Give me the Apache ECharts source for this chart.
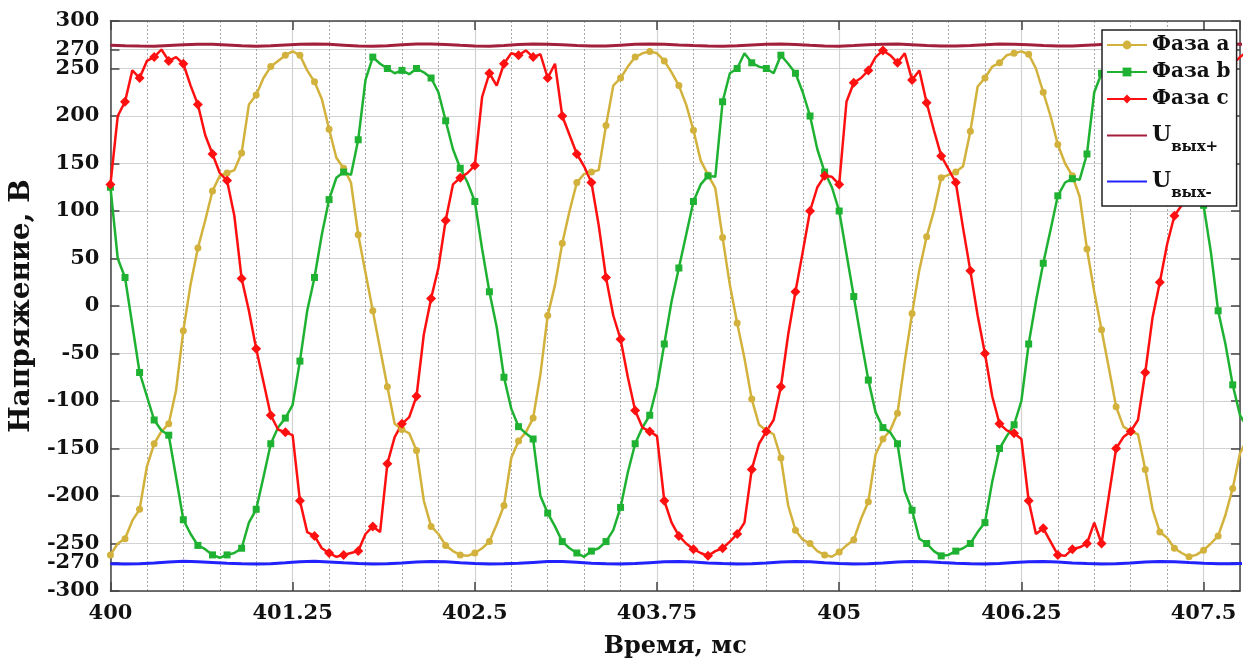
<!DOCTYPE html>
<html>
<head>
<meta charset="utf-8">
<script src="https://cdn.jsdelivr.net/npm/echarts@6/dist/echarts.min.js"></script>
<style>
html,body{margin:0;padding:0;background:#fff}
#box{width:1245px;height:664px}
</style>
</head>
<body>
<div id="box"></div>
<script>
// phase voltages, one value every 0.05 ms from 400 ms
var t0 = 400;
var phaseStep = 0.05;
var phaseA = [-262,-250,-245,-226,-214,-169,-145,-132,-124,-89,
  -26,23,61,90,121,137,140,143,161,212,
  222,240,252,258,264,268,264,248,236,218,
  186,156,145,130,75,35,-5,-45,-85,-124,
  -130,-134,-152,-205,-232,-240,-252,-258,-262,-263,
  -260,-255,-248,-230,-210,-160,-142,-133,-118,-72,
  -10,22,66,100,130,139,141,143,190,232,
  240,252,262,266,268,266,258,246,232,212,
  185,153,138,124,72,22,-18,-55,-98,-125,
  -131,-135,-160,-210,-236,-246,-250,-258,-262,-264,
  -259,-252,-246,-224,-206,-156,-140,-131,-113,-58,
  -8,38,73,100,135,138,141,147,184,231,
  240,252,256,264,266,268,265,250,225,200,
  170,150,137,115,60,15,-25,-65,-106,-127,
  -132,-135,-172,-214,-238,-244,-255,-260,-264,-262,
  -257,-250,-242,-220,-192,-155,-140];
var phaseB = [125,50,30,-20,-70,-95,-120,-131,-136,-180,
  -225,-240,-252,-256,-262,-265,-262,-260,-255,-228,
  -214,-180,-145,-128,-118,-104,-58,-5,30,75,
  112,135,141,138,175,238,262,255,250,245,
  248,244,250,246,240,225,195,165,145,130,
  110,60,15,-22,-75,-108,-127,-134,-140,-200,
  -218,-232,-248,-255,-260,-264,-258,-255,-248,-236,
  -212,-175,-145,-128,-115,-85,-40,5,40,75,
  110,128,137,136,215,245,250,266,256,252,
  250,245,264,255,245,225,200,165,141,125,
  100,55,10,-35,-78,-112,-128,-133,-145,-195,
  -215,-245,-250,-258,-263,-262,-258,-255,-250,-238,
  -228,-185,-150,-137,-125,-100,-40,5,45,80,
  116,130,134,133,160,225,245,235,255,248,
  252,246,258,250,240,228,195,165,142,130,
  106,57,-5,-40,-83,-115,-128];
var phaseC = [128,200,215,248,240,258,262,270,258,262,
  255,232,212,180,160,140,132,95,29,-5,
  -45,-80,-115,-130,-133,-136,-205,-238,-242,-255,
  -260,-264,-262,-260,-258,-240,-232,-238,-166,-138,
  -124,-117,-95,-30,8,40,90,128,135,140,
  148,220,245,232,255,266,264,269,262,265,
  240,255,200,180,160,147,130,85,30,-10,
  -35,-75,-110,-128,-132,-137,-205,-228,-242,-250,
  -256,-260,-263,-258,-255,-248,-240,-228,-172,-145,
  -132,-120,-85,-30,15,57,100,125,137,136,
  128,215,235,240,248,262,269,264,256,266,
  238,248,214,185,158,144,130,82,37,-10,
  -50,-95,-124,-131,-134,-140,-205,-240,-234,-248,
  -262,-263,-256,-254,-250,-228,-250,-200,-150,-138,
  -132,-120,-70,-12,25,65,95,106,130,140,
  150,200,235,245,255,262,268];

// output rails, one value every 0.1 ms
var railStep = 0.1;
var uPlus = [274.5,274.0,273.6,273.4,274.2,275.0,275.6,275.4,274.8,274.0,
  273.5,274.0,274.8,275.5,275.8,275.4,274.6,273.8,273.4,274.0,
  275.0,275.7,275.8,275.2,274.4,273.7,273.5,274.3,275.2,275.8,
  275.6,274.9,274.1,273.6,273.8,274.6,275.4,275.8,275.5,274.8,
  274.2,273.7,273.5,273.9,274.8,275.5,275.7,275.2,274.4,273.8,
  273.5,274.1,275.0,275.6,275.7,275.1,274.3,273.7,273.6,274.3,
  275.1,275.7,275.6,274.9,274.1,273.6,273.7,274.5,275.3,275.8,
  275.5,274.7,274.0,273.5,273.8,274.6,275.4,275.7,275.4];
var uMinus = [-271.2,-271.5,-271.2,-270.4,-269.4,-268.8,-269.2,-270.0,-270.8,-271.4,
  -271.6,-271.2,-270.3,-269.3,-268.8,-269.4,-270.3,-271.0,-271.5,-271.3,
  -270.6,-269.6,-268.9,-269.3,-270.2,-271.0,-271.5,-271.4,-270.8,-269.9,
  -269.0,-269.0,-269.8,-270.7,-271.3,-271.6,-271.1,-270.2,-269.3,-268.9,
  -269.5,-270.4,-271.1,-271.5,-271.2,-270.4,-269.4,-268.9,-269.3,-270.2,
  -271.0,-271.5,-271.3,-270.6,-269.6,-268.9,-269.1,-270.0,-270.8,-271.4,
  -271.5,-271.0,-270.0,-269.2,-268.9,-269.5,-270.4,-271.1,-271.5,-271.3,
  -270.5,-269.6,-268.9,-269.2,-270.1,-270.9,-271.4,-271.4,-270.8];

var yTicks = [-300,-270,-250,-200,-150,-100,-50,0,50,100,150,200,250,270,300];

var font = "'DejaVu Serif', 'Liberation Serif', serif";
var colA = '#d2b23c', colB = '#1fb232', colC = '#ff1010', colUp = '#a3203c', colUm = '#2222ff';

// marker only on every second sample, like the original plot
function pts(arr, step, marks) {
  return arr.map(function (v, i) {
    var p = {value: [+(t0 + i * step).toFixed(2), v]};
    if (marks && i % 2) p.symbol = 'none';
    return p;
  });
}

var myChart = echarts.init(document.getElementById('box'));
var axisCol = '#444';
var noMarker = {color: 'rgba(0,0,0,0)', borderWidth: 0};
var option = {
  animation: false,
  backgroundColor: '#fff',
  grid: {left: 108, right: 5, top: 21, bottom: 70},
  legend: {
    orient: 'vertical',
    left: 1102, top: 30,
    padding: [5, 6, 5, 4],
    itemGap: 7,
    itemWidth: 40, itemHeight: 11,
    backgroundColor: '#fff',
    borderColor: '#222', borderWidth: 1.5,
    textStyle: {fontFamily: font, fontWeight: 'bold', fontSize: 20, color: '#111',
      rich: {
        u: {fontFamily: font, fontWeight: 'bold', fontSize: 22, lineHeight: 22, color: '#111'},
        s: {fontFamily: font, fontWeight: 'bold', fontSize: 15, lineHeight: 15, padding: [24, 0, 0, 0], color: '#111'}
      }},
    formatter: function (name) {
      if (name.charAt(0) === 'U') return '{u|U}{s|' + name.slice(1) + '}';
      return name;
    },
    data: ['Фаза a', 'Фаза b', 'Фаза c',
      {name: 'Uвых+', itemStyle: noMarker},
      {name: 'Uвых-', itemStyle: noMarker}]
  },
  xAxis: [{
    type: 'value', min: 400, max: 407.75, interval: 1.25, position: 'bottom',
    name: 'Время, мс', nameLocation: 'middle', nameGap: 44,
    nameTextStyle: {fontFamily: font, fontWeight: 'bold', fontSize: 24, color: '#111'},
    axisLine: {onZero: false, lineStyle: {color: axisCol, width: 1.5}},
    axisTick: {inside: true, length: 9, lineStyle: {color: axisCol, width: 1.5}},
    axisLabel: {margin: 12, fontFamily: font, fontWeight: 'bold', fontSize: 21, color: '#111', showMaxLabel: false},
    splitLine: {show: true, lineStyle: {color: '#d2d2d2', width: 1.2}},
    minorTick: {show: false, splitNumber: 5},
    minorSplitLine: {show: true, lineStyle: {color: '#a8a8a8', width: 1, type: [2, 2]}}
  }, {
    type: 'value', min: 400, max: 407.75, interval: 1.25, position: 'top',
    axisLine: {onZero: false, lineStyle: {color: axisCol, width: 1.5}},
    axisTick: {inside: true, length: 9, lineStyle: {color: axisCol, width: 1.5}},
    axisLabel: {show: false}, splitLine: {show: false}
  }],
  yAxis: [{
    type: 'value', min: -300, max: 300, interval: 50, position: 'left',
    name: 'Напряжение, В', nameLocation: 'middle', nameGap: 71, nameRotate: 90,
    nameTextStyle: {fontFamily: font, fontWeight: 'bold', fontSize: 28, color: '#111'},
    axisLine: {show: true, onZero: false, lineStyle: {color: axisCol, width: 1.5}},
    axisTick: {show: true, inside: true, length: 9, customValues: yTicks, lineStyle: {color: axisCol, width: 1.5}},
    axisLabel: {margin: 11, customValues: yTicks, fontFamily: font, fontWeight: 'bold', fontSize: 21, color: '#111'},
    splitLine: {show: true, lineStyle: {color: '#d2d2d2', width: 1.2}}
  }, {
    type: 'value', min: -300, max: 300, interval: 50, position: 'right',
    axisLine: {show: true, onZero: false, lineStyle: {color: axisCol, width: 1.5}},
    axisTick: {show: true, inside: true, length: 9, customValues: yTicks, lineStyle: {color: axisCol, width: 1.5}},
    axisLabel: {show: false}, splitLine: {show: false}
  }],
  series: [
    {name: 'Фаза a', type: 'line', data: pts(phaseA, phaseStep, true),
      symbol: 'circle', symbolSize: 7, lineStyle: {width: 2.5, color: colA}, itemStyle: {color: colA}},
    {name: 'Фаза b', type: 'line', data: pts(phaseB, phaseStep, true),
      symbol: 'rect', symbolSize: 7, lineStyle: {width: 2.5, color: colB}, itemStyle: {color: colB}},
    {name: 'Фаза c', type: 'line', data: pts(phaseC, phaseStep, true),
      symbol: 'diamond', symbolSize: 10, lineStyle: {width: 2.5, color: colC}, itemStyle: {color: colC}},
    {name: 'Uвых+', type: 'line', data: pts(uPlus, railStep, false),
      symbol: 'none', lineStyle: {width: 3, color: colUp}, itemStyle: {color: colUp}},
    {name: 'Uвых-', type: 'line', data: pts(uMinus, railStep, false),
      symbol: 'none', lineStyle: {width: 3, color: colUm}, itemStyle: {color: colUm}}
  ]
};
myChart.setOption(option);
</script>
</body>
</html>
